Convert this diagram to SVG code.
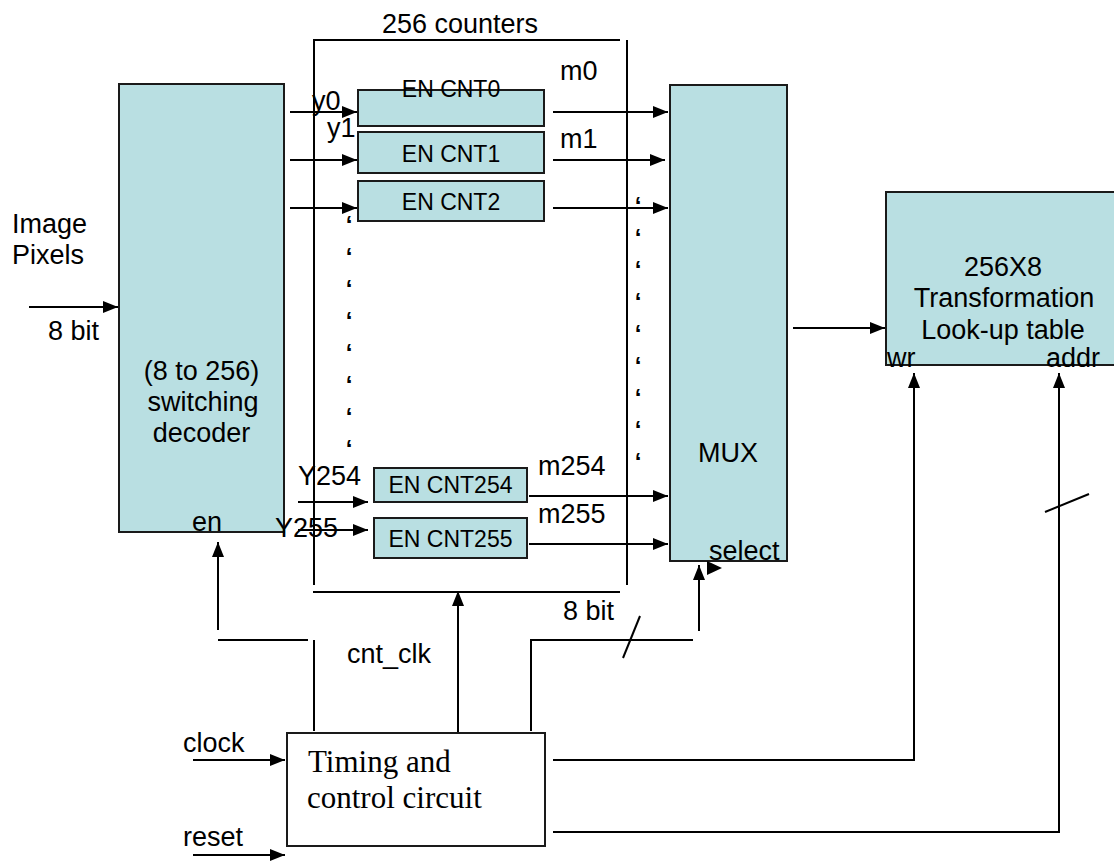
<svg xmlns="http://www.w3.org/2000/svg" width="1114" height="861" viewBox="0 0 1114 861">
<defs>
<style>
.t{font-family:"Liberation Sans",Arial,sans-serif;font-size:27px;fill:#000}
.c{font-family:"Liberation Sans",Arial,sans-serif;font-size:23px;fill:#000;text-anchor:middle}
.m{text-anchor:middle}
.q{font-family:"Liberation Sans",Arial,sans-serif;font-size:24px;font-weight:bold;fill:#000;text-anchor:middle}
.tm{font-family:"Liberation Serif","Times New Roman",serif;font-size:31px;fill:#000}
.box{fill:#B9DFE2;stroke:#1a1a1a;stroke-width:2}
.wbox{fill:#fff;stroke:#1a1a1a;stroke-width:2}
.ln{stroke:#000;stroke-width:2;fill:none}
.ar{stroke:#000;stroke-width:2;fill:none;marker-end:url(#ah)}
</style>
<marker id="ah" markerWidth="15" markerHeight="12" refX="15" refY="6" orient="auto" markerUnits="userSpaceOnUse"><path d="M0,0 L15,6 L0,12 z" fill="#000"/></marker>
</defs>
<rect width="1114" height="861" fill="#fff"/>

<g id="counters-frame">
<text class="t" x="382" y="33">256 counters</text>
<line class="ln" x1="313" y1="40" x2="620" y2="40"/>
<line class="ln" x1="314" y1="40" x2="314" y2="585"/>
<line class="ln" x1="627" y1="40" x2="627" y2="585"/>
<line class="ln" x1="313" y1="592" x2="620" y2="592"/>
</g>

<g id="decoder">
<rect class="box" x="119" y="84" width="165" height="448"/>
<text class="t m" x="201.5" y="380">(8 to 256)</text>
<text class="t m" x="203" y="411">switching</text>
<text class="t m" x="201.5" y="442">decoder</text>
<text class="t" x="192" y="531">en</text>
</g>

<g id="cnt0">
<rect class="box" x="358" y="90" width="186" height="36"/>
<text class="c" x="451" y="97">EN CNT0</text>
</g>
<g id="cnt1">
<rect class="box" x="358" y="132" width="186" height="41"/>
<text class="c" x="451" y="162">EN CNT1</text>
</g>
<g id="cnt2">
<rect class="box" x="358" y="181" width="186" height="40"/>
<text class="c" x="451" y="210">EN CNT2</text>
</g>
<g id="cnt254">
<rect class="box" x="374" y="468" width="153" height="34"/>
<text class="c" x="450.5" y="493">EN CNT254</text>
</g>
<g id="cnt255">
<rect class="box" x="374" y="518" width="153" height="40"/>
<text class="c" x="450.5" y="547">EN CNT255</text>
</g>

<g id="mux">
<rect class="box" x="670" y="85" width="117" height="476"/>
<text class="t" x="698" y="462">MUX</text>
<text class="t" x="709" y="560">select</text>
</g>

<g id="lut">
<rect class="box" x="886" y="192" width="234" height="173"/>
<text class="t m" x="1003" y="276">256X8</text>
<text class="t m" x="1004" y="307">Transformation</text>
<text class="t m" x="1003" y="339">Look-up table</text>
<text class="t" x="887" y="367">wr</text>
<text class="t" x="1046" y="367">addr</text>
</g>

<g id="timing">
<rect class="wbox" x="287" y="733" width="258" height="113"/>
<text class="tm" x="308" y="772">Timing and</text>
<text class="tm" x="307" y="808">control circuit</text>
</g>

<g id="labels">
<text class="t" x="12" y="233">Image</text>
<text class="t" x="12" y="264">Pixels</text>
<text class="t" x="48" y="340">8 bit</text>
<text class="t" x="312" y="110">y0</text>
<text class="t" x="327" y="137">y1</text>
<text class="t" x="560" y="80">m0</text>
<text class="t" x="560" y="148">m1</text>
<text class="t" x="298" y="485">Y254</text>
<text class="t" x="275" y="537">Y255</text>
<text class="t" x="538" y="475">m254</text>
<text class="t" x="538" y="523">m255</text>
<text class="t" x="563" y="620">8 bit</text>
<text class="t" x="347" y="663">cnt_clk</text>
<text class="t" x="183" y="752">clock</text>
<text class="t" x="183" y="846">reset</text>
</g>

<g id="dots">
<text class="q" x="349" y="233">‘</text>
<text class="q" x="349" y="265">‘</text>
<text class="q" x="349" y="297">‘</text>
<text class="q" x="349" y="329">‘</text>
<text class="q" x="349" y="361">‘</text>
<text class="q" x="349" y="393">‘</text>
<text class="q" x="349" y="425">‘</text>
<text class="q" x="349" y="457">‘</text>
<text class="q" x="638" y="214">‘</text>
<text class="q" x="638" y="246">‘</text>
<text class="q" x="638" y="278">‘</text>
<text class="q" x="638" y="310">‘</text>
<text class="q" x="638" y="342">‘</text>
<text class="q" x="638" y="374">‘</text>
<text class="q" x="638" y="406">‘</text>
<text class="q" x="638" y="438">‘</text>
<text class="q" x="638" y="470">‘</text>
</g>

<g id="connectors">
<line class="ar" x1="29" y1="307" x2="118" y2="307"/>
<line class="ar" x1="290" y1="112" x2="357" y2="112"/>
<line class="ar" x1="290" y1="160" x2="357" y2="160"/>
<line class="ar" x1="290" y1="208" x2="357" y2="208"/>
<line class="ar" x1="298" y1="502" x2="368" y2="502"/>
<line class="ar" x1="298" y1="530" x2="368" y2="530"/>
<line class="ar" x1="553" y1="112" x2="668" y2="112"/>
<line class="ar" x1="553" y1="160" x2="665" y2="160"/>
<line class="ar" x1="553" y1="208" x2="668" y2="208"/>
<line class="ar" x1="529" y1="496" x2="668" y2="496"/>
<line class="ar" x1="529" y1="544" x2="668" y2="544"/>
<line class="ar" x1="793" y1="328" x2="885" y2="328"/>
<line class="ar" x1="218" y1="630" x2="218" y2="542"/>
<line class="ln" x1="218" y1="640" x2="308" y2="640"/>
<line class="ln" x1="314" y1="640" x2="314" y2="731"/>
<line class="ar" x1="458" y1="732" x2="458" y2="591"/>
<line class="ln" x1="531" y1="731" x2="531" y2="640"/>
<line class="ln" x1="530" y1="640" x2="693" y2="640"/>
<line class="ln" x1="623" y1="658" x2="640" y2="616"/>
<line class="ar" x1="699" y1="631" x2="699" y2="565"/>
<path d="M707,561 L722,568 L707,575 z" fill="#000"/>
<line class="ar" x1="193" y1="760" x2="285" y2="760"/>
<line class="ar" x1="193" y1="855" x2="285" y2="855"/>
<polyline class="ar" points="553,760 914,760 914,373"/>
<polyline class="ar" points="553,832 1059,832 1059,373"/>
<line class="ln" x1="1045" y1="512" x2="1089" y2="494"/>
</g>
</svg>
